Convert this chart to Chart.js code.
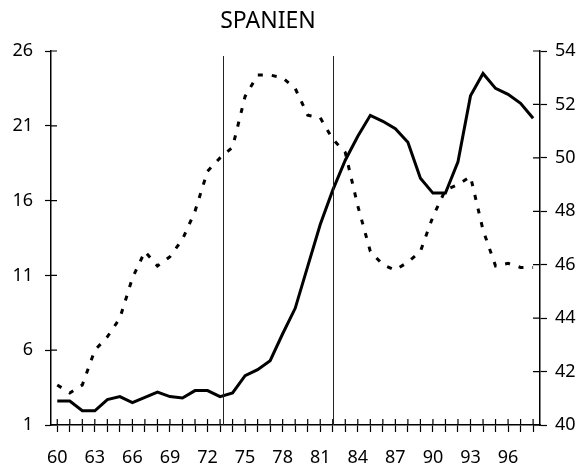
<!DOCTYPE html>
<html>
<head>
<meta charset="utf-8">
<script src="https://cdn.jsdelivr.net/npm/chart.js@4"></script>
<style>
    body { margin: 0; background: #fff; }
    #box { width: 578px; height: 469px; }
</style>
</head>
<body>
<div id="box"><canvas id="grafik"></canvas></div>
<script>
// --- DATEN ---
const titel = 'SPANIEN';

const jahre = [60, 61, 62, 63, 64, 65, 66, 67, 68, 69, 70, 71, 72, 73, 74, 75, 76, 77, 78, 79,
    80, 81, 82, 83, 84, 85, 86, 87, 88, 89, 90, 91, 92, 93, 94, 95, 96, 97, 98];

// durchgezogene Linie, linke Achse
const linieLinks = [2.6, 2.6, 1.95, 1.95, 2.7, 2.9, 2.5, 2.85, 3.2, 2.9, 2.8, 3.3, 3.3, 2.9, 3.15, 4.3, 4.7, 5.3, 7.1, 8.8,
    11.6, 14.4, 16.7, 18.7, 20.3, 21.7, 21.3, 20.8, 19.9, 17.5, 16.5, 16.5, 18.6, 23.0, 24.5, 23.5, 23.1, 22.5, 21.5];

// gestrichelte Linie, rechte Achse
const linieRechts = [41.5, 41.2, 41.5, 42.8, 43.3, 44.0, 45.5, 46.5, 45.95, 46.3, 46.95, 48.0, 49.5, 50.0, 50.4, 52.3, 53.1, 53.1, 53.0, 52.6,
    51.6, 51.5, 50.7, 50.2, 48.2, 46.5, 46.0, 45.8, 46.1, 46.5, 47.8, 48.8, 49.0, 49.3, 47.3, 45.95, 46.05, 45.9, 45.9];

const xBeschriftung = [60, 63, 66, 69, 72, 75, 78, 81, 84, 87, 90, 93, 96];
const ticksLinks = [1, 6, 11, 16, 21, 26];
const ticksRechts = [40, 42, 44, 46, 48, 50, 52, 54];

// senkrechte Markierungen
const markierungen = [73.2, 82];

const schrift = { family: "'Noto Sans', sans-serif", size: 18 };

// --- PLUGINS ---

// Titel etwas links von der Mitte, wie im Original
const titelPlugin = {
    id: 'titelPlugin',
    afterDraw(chart) {
        const ctx = chart.ctx;
        ctx.save();
        ctx.fillStyle = '#000';
        ctx.font = "23px 'Noto Sans', sans-serif";
        ctx.textAlign = 'center';
        ctx.textBaseline = 'middle';
        ctx.fillText(titel, 268, 21);
        ctx.restore();
    }
};

// Striche, die die Achsen kreuzen (innerer Teil) + senkrechte Linien
const achsenPlugin = {
    id: 'achsenPlugin',
    afterDatasetsDraw(chart) {
        const ctx = chart.ctx;
        const area = chart.chartArea;
        const x = chart.scales.x;
        const yl = chart.scales.yl;
        const yr = chart.scales.yr;
        ctx.save();
        ctx.strokeStyle = '#000';
        ctx.lineWidth = 1.2;
        ctx.beginPath();
        yl.ticks.forEach(t => {
            const py = yl.getPixelForValue(t.value);
            ctx.moveTo(area.left, py);
            ctx.lineTo(area.left + 6, py);
        });
        yr.ticks.forEach(t => {
            const py = yr.getPixelForValue(t.value);
            ctx.moveTo(area.right - 7, py);
            ctx.lineTo(area.right, py);
        });
        x.ticks.forEach(t => {
            const px = x.getPixelForValue(t.value);
            ctx.moveTo(px, area.bottom - 6);
            ctx.lineTo(px, area.bottom);
        });
        ctx.stroke();

        ctx.strokeStyle = '#222';
        ctx.lineWidth = 1;
        ctx.beginPath();
        markierungen.forEach(j => {
            const px = Math.round(x.getPixelForValue(j)) + 0.5;
            ctx.moveTo(px, area.top + 5);
            ctx.lineTo(px, area.bottom);
        });
        ctx.stroke();
        ctx.restore();
    }
};

// --- DIAGRAMM ---

new Chart(document.getElementById('grafik'), {
    type: 'line',
    data: {
        datasets: [
            {
                data: jahre.map((j, i) => ({ x: j, y: linieLinks[i] })),
                yAxisID: 'yl',
                borderColor: '#000',
                borderWidth: 3,
                pointRadius: 0,
                tension: 0
            },
            {
                data: jahre.map((j, i) => ({ x: j, y: linieRechts[i] })),
                yAxisID: 'yr',
                borderColor: '#000',
                borderWidth: 3,
                borderDash: [5, 9],
                pointRadius: 0,
                tension: 0
            }
        ]
    },
    options: {
        responsive: true,
        maintainAspectRatio: false,
        animation: false,
        layout: { padding: { top: 51, left: 0, right: 0, bottom: 0 } },
        plugins: {
            legend: { display: false },
            tooltip: { enabled: false }
        },
        scales: {
            x: {
                type: 'linear',
                min: 59.5,
                max: 98.55,
                afterFit: s => { s.height = 44; },
                afterBuildTicks: s => { s.ticks = jahre.map(v => ({ value: v })); },
                ticks: {
                    color: '#000',
                    font: schrift,
                    padding: 15,
                    autoSkip: false,
                    maxRotation: 0,
                    callback: v => xBeschriftung.includes(v) ? String(v) : ''
                },
                grid: { drawOnChartArea: false, color: '#000', tickLength: 7, tickWidth: 1.2 },
                border: { color: '#000', width: 1.5 }
            },
            yl: {
                position: 'left',
                min: 1,
                max: 26,
                afterFit: s => { s.width = 51; },
                afterBuildTicks: s => { s.ticks = ticksLinks.map(v => ({ value: v })); },
                ticks: { color: '#000', font: schrift, padding: 12 },
                grid: { drawOnChartArea: false, color: '#000', tickLength: 6, tickWidth: 1.2 },
                border: { color: '#000', width: 1.5 }
            },
            yr: {
                position: 'right',
                min: 40,
                max: 54,
                afterFit: s => { s.width = 38; },
                afterBuildTicks: s => { s.ticks = ticksRechts.map(v => ({ value: v })); },
                ticks: { color: '#000', font: schrift, padding: 8 },
                grid: { drawOnChartArea: false, color: '#000', tickLength: 7, tickWidth: 1.2 },
                border: { color: '#000', width: 1.5 }
            }
        }
    },
    plugins: [titelPlugin, achsenPlugin]
});
</script>
</body>
</html>
